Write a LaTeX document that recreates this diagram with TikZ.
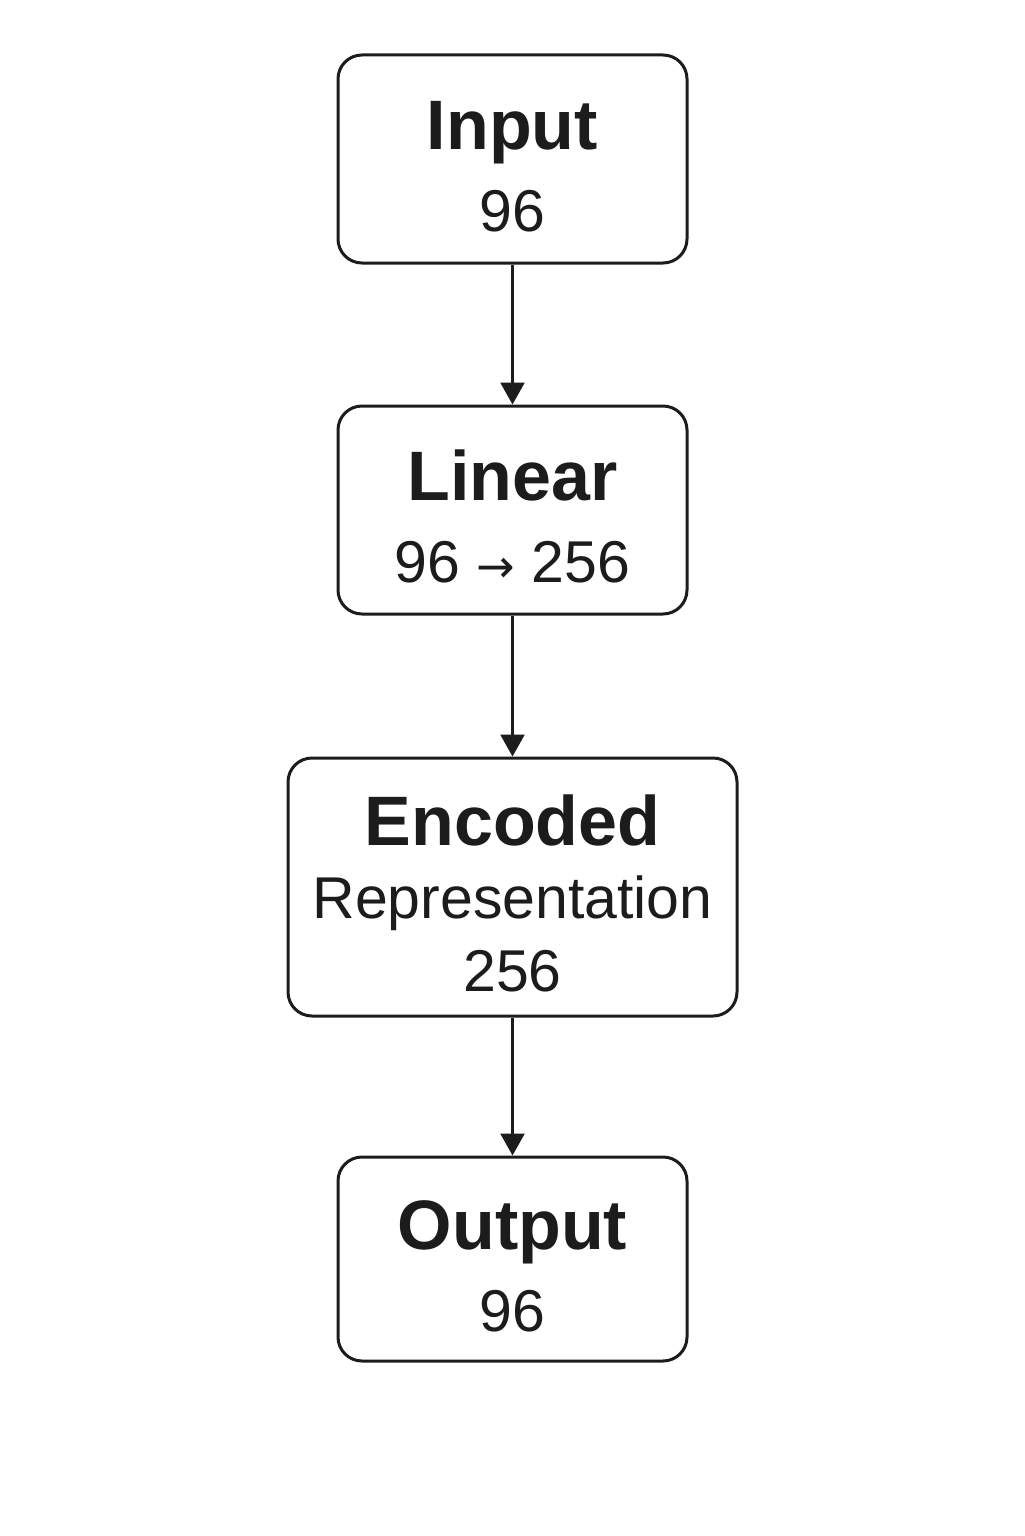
\documentclass[tikz,border=0pt]{standalone}
\usepackage{fontspec}
\setmainfont{Liberation Sans}
\newfontfamily\arrowfont{DejaVu Sans}
\usetikzlibrary{arrows.meta}
\definecolor{ink}{HTML}{1C1C1C}
\newcommand{\layername}[1]{{\fontsize{35}{40}\selectfont\bfseries\rule{0pt}{32pt}#1}}
\begin{document}
\begin{tikzpicture}[x=0.5pt, y=-0.5pt, every node/.style={text=ink},
    layer/.style={draw=ink, line width=1.5pt, rounded corners=12pt, fill=white,
      align=center, minimum width=174.5pt, minimum height=104pt, inner sep=0pt,
      font=\fontsize{29.5}{41}\selectfont},
    flow/.style={draw=ink, line width=1.3pt, -{Triangle[length=11pt,width=12pt]}}]
          \useasboundingbox (0,0) rectangle (1024,1536);
          \node [layer] (input) at (512.5,159) {\layername{Input}\\96};
          \node [layer] (linear) at (512.5,510) {\layername{Linear}\\96 {\arrowfont\fontsize{23}{41}\selectfont →} 256};
          \node [layer, minimum width=224.5pt, minimum height=129pt,
            font=\fontsize{29.5}{36.5}\selectfont] (encoded) at (512.5,887)
            {\layername{Encoded}\\Representation\\256};
          \node [layer, minimum height=102pt] (output) at (512.5,1259) {\layername{Output}\\96};
          \draw [flow] (input) -- (linear);
          \draw [flow] (linear) -- (encoded);
          \draw [flow] (encoded) -- (output);
        \end{tikzpicture}
\end{document}
